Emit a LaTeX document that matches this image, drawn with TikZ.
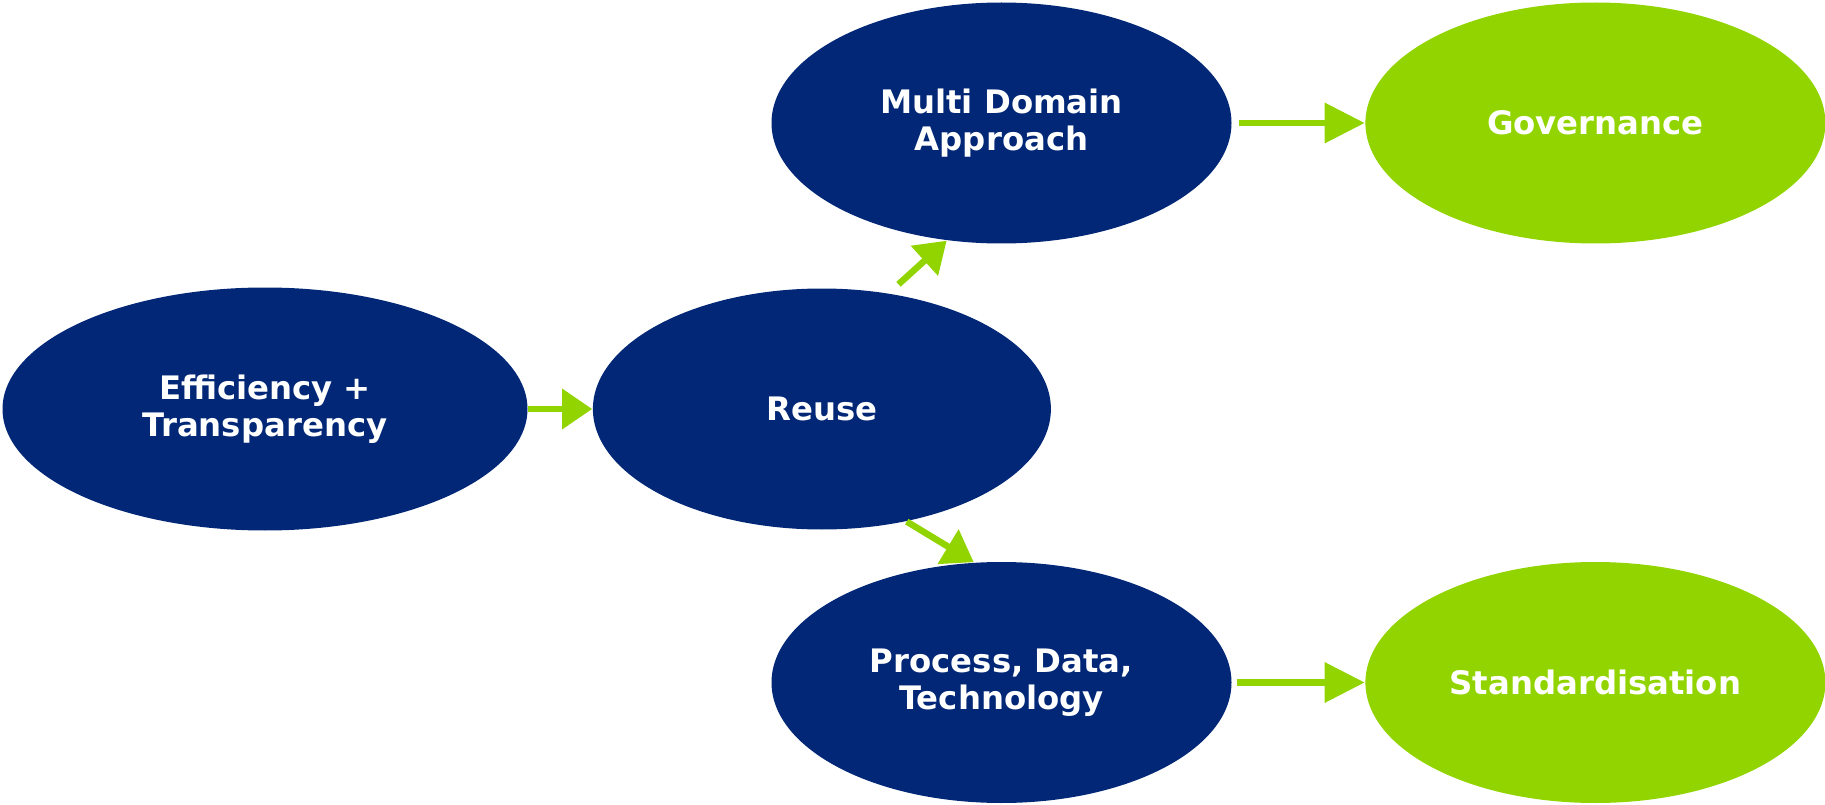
\documentclass[tikz,border=0pt]{standalone}
\usepackage{fontspec}
\setmainfont{DejaVu Sans}
\usetikzlibrary{positioning,shapes.geometric,arrows.meta}

\definecolor{navy}{RGB}{2,39,118}
\definecolor{lime}{RGB}{146,212,0}

\begin{document}
\begin{tikzpicture}[x=0.1mm, y=0.1mm, > = {Triangle[length=3mm,width=3.9mm]}]
    \tikzset{
      oval/.style={ellipse, inner sep=0pt, minimum width=46mm, minimum height=24.1mm,
        text=white, font=\fontsize{9.2}{10.6}\selectfont\bfseries, align=center},
      darkoval/.style={oval, fill=navy},
      greenoval/.style={oval, fill=lime},
      link/.style={->, color=lime, line width=0.65mm},
      longlink/.style={link, -{Triangle[length=4mm,width=3.9mm]}},
    }
    \useasboundingbox (0,0) rectangle (1825,804);
    \node [darkoval, minimum width=52.5mm, minimum height=24.3mm] (eff) at (265,395) {Efficiency +\\Transparency};
    \node [darkoval, minimum width=45.8mm, right=6.4mm of eff] (reuse) {Reuse};
    \node [darkoval] (mda) at (1001.5,681) {Multi Domain\\Approach};
    \node [darkoval] (pdt) at (1001.5,121.5) {Process, Data,\\Technology};
    \node [greenoval, right=13.25mm of mda] (gov) {Governance};
    \node [greenoval, right=13.25mm of pdt] (std) {Standardisation};
    \draw [link] (eff) -- (reuse);
    \draw [link, shorten <=1.3mm] (reuse.60) -- (mda.245);
    \draw [link] (reuse.-53) -- (pdt.103);
    \draw [longlink, shorten <=0.7mm] (mda) -- (gov);
    \draw [longlink, shorten <=0.5mm] (pdt) -- (std);

  \end{tikzpicture}
\end{document}
